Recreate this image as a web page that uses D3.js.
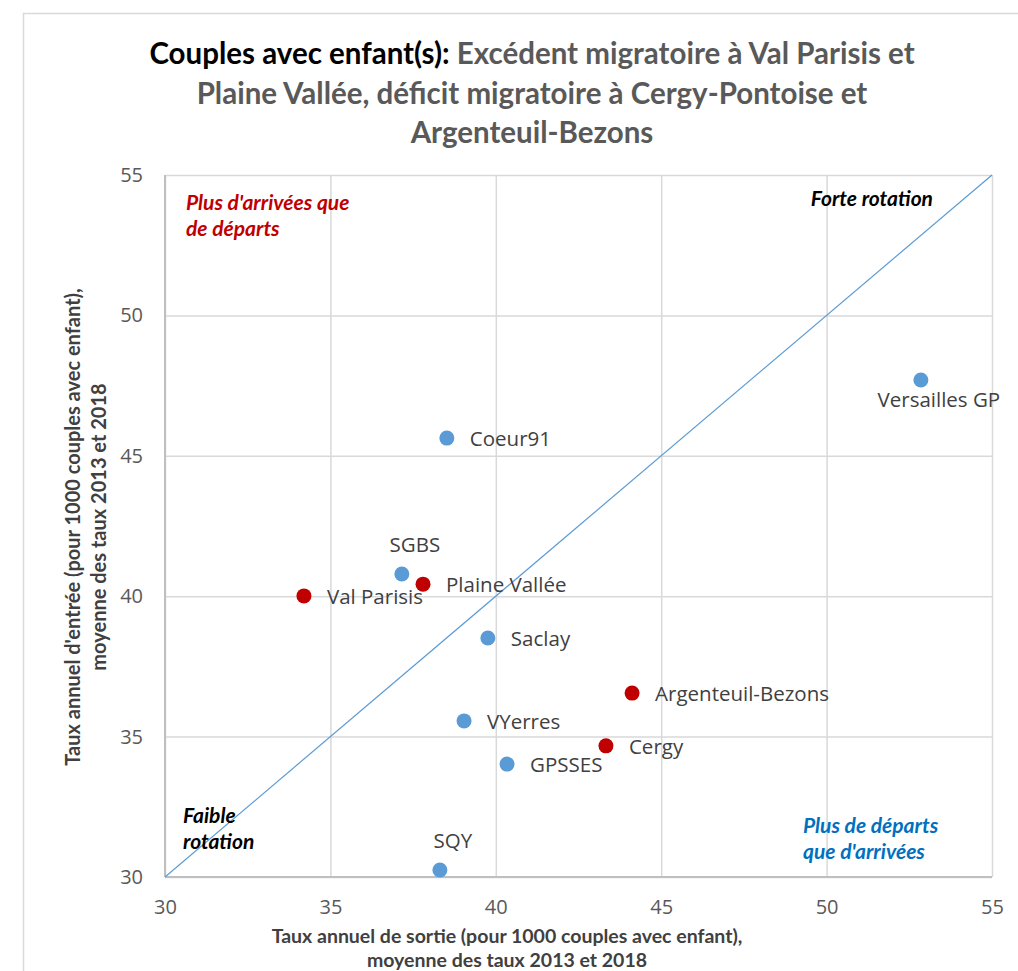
<!DOCTYPE html>
<html>
<head>
<meta charset="utf-8">
<script src="https://cdn.jsdelivr.net/npm/d3@7"></script>
<style>
  html, body { margin: 0; padding: 0; background: #ffffff; }
  svg { display: block; }
</style>
</head>
<body>
<svg id="chart" width="1018" height="971"></svg>
<script>
// ---------- data ----------
const territories = ["Val Parisis", "SGBS", "Plaine Vallée", "Coeur91", "Saclay", "VYerres", "GPSSES", "Cergy", "Argenteuil-Bezons", "SQY", "Versailles GP"];
const exitRates  = [34.2, 37.16, 37.8, 38.52, 39.76, 39.04, 40.34, 43.33, 44.12, 38.31, 52.85];
const entryRates = [40.01, 40.79, 40.43, 45.63, 38.51, 35.56, 34.02, 34.67, 36.55, 30.25, 47.70];
const groups     = ["excedent", "autre", "excedent", "autre", "autre", "autre", "autre", "deficit", "deficit", "autre", "autre"];
const labelSides = ["right", "above", "right", "right", "right", "right", "right", "right", "right", "above", "below"];
const xTicks = [30, 35, 40, 45, 50, 55];
const yTicks = [30, 35, 40, 45, 50, 55];
const diagonal = [[30, 30], [55, 55]];

const titleBold = "Couples avec enfant(s):";
const titleLines = [" Excédent migratoire à Val Parisis et", "Plaine Vallée, déficit migratoire à Cergy-Pontoise et", "Argenteuil-Bezons"];
const xTitle = ["Taux annuel de sortie (pour 1000 couples avec enfant),", "moyenne des taux 2013 et 2018"];
const yTitle = ["Taux annuel d'entrée (pour 1000 couples avec enfant),", "moyenne des taux 2013 et 2018"];

// ---------- setup ----------
const svg = d3.select("#chart");
const colorOf = g => (g === "excedent" || g === "deficit") ? "#c00000" : "#5b9bd5";

const x = d3.scaleLinear().domain([30, 55]).range([165, 992]);
const y = d3.scaleLinear().domain([30, 55]).range([877, 175]);
const plotW = x.range()[1] - x.range()[0];
const plotH = y.range()[0] - y.range()[1];

// outer frame
svg.append("rect")
  .attr("x", 23.5).attr("y", 13.5).attr("width", 1030).attr("height", 1000)
  .attr("fill", "#fff").attr("stroke", "#d9d9d9").attr("stroke-width", 1.5);

// ---------- title ----------
const titleFont = "Lato, 'Open Sans', sans-serif";
const title = svg.append("text")
  .attr("x", 532).attr("y", 64)
  .attr("text-anchor", "middle")
  .style("font-family", titleFont)
  .style("font-weight", "bold")
  .style("font-size", "29.5px");
title.append("tspan").attr("fill", "#000").text(titleBold);
title.append("tspan").attr("fill", "#595959").text(titleLines[0]);
titleLines.slice(1).forEach((t, i) => {
  svg.append("text")
    .attr("x", 532).attr("y", 104 + i * 39)
    .attr("text-anchor", "middle")
    .attr("fill", "#595959")
    .style("font-family", titleFont)
    .style("font-weight", "bold")
    .style("font-size", "29.5px")
    .text(t);
});

// ---------- grid & axes ----------
const gx = svg.append("g")
  .attr("transform", `translate(0,${y(30)})`)
  .call(d3.axisBottom(x).tickValues(xTicks).tickSizeInner(-plotH).tickSizeOuter(0).tickPadding(23));
const gy = svg.append("g")
  .attr("transform", `translate(${x(30)},0)`)
  .call(d3.axisLeft(y).tickValues(yTicks).tickSizeInner(-plotW).tickSizeOuter(0).tickPadding(22));

[gx, gy].forEach(g => {
  g.select(".domain").remove();
  g.selectAll(".tick line").attr("stroke", "#d9d9d9").attr("stroke-width", 1.5);
  g.selectAll(".tick text")
    .attr("fill", "#595959")
    .style("font-family", "'Open Sans', sans-serif")
    .style("font-size", "20px");
});

// axis lines (darker)
svg.append("line")
  .attr("x1", x(30)).attr("x2", x(55)).attr("y1", y(30)).attr("y2", y(30))
  .attr("stroke", "#bfbfbf").attr("stroke-width", 2);
svg.append("line")
  .attr("x1", x(30)).attr("x2", x(30)).attr("y1", y(30)).attr("y2", y(55))
  .attr("stroke", "#bfbfbf").attr("stroke-width", 2);

// diagonal
svg.append("path")
  .datum(diagonal)
  .attr("d", d3.line().x(d => x(d[0])).y(d => y(d[1])))
  .attr("fill", "none")
  .attr("stroke", "#5b9bd5")
  .attr("stroke-width", 1.2);

// ---------- axis titles ----------
xTitle.forEach((t, i) => {
  svg.append("text")
    .attr("x", 507).attr("y", 943 + i * 24)
    .attr("text-anchor", "middle")
    .attr("fill", "#404040")
    .style("font-family", titleFont)
    .style("font-weight", "bold")
    .style("font-size", "19.5px")
    .text(t);
});
const yMid = (y(30) + y(55)) / 2;
yTitle.forEach((t, i) => {
  svg.append("text")
    .attr("transform", `translate(${80 + i * 26},${yMid + 1}) rotate(-90)`)
    .attr("text-anchor", "middle")
    .attr("fill", "#404040")
    .style("font-family", titleFont)
    .style("font-weight", "bold")
    .style("font-size", "20px")
    .text(t);
});

// ---------- annotations ----------
function annot(lines, px, py, color, anchor) {
  lines.forEach((t, i) => {
    svg.append("text")
      .attr("x", px).attr("y", py + i * 25.5)
      .attr("text-anchor", anchor || "start")
      .attr("fill", color)
      .style("font-family", titleFont)
      .style("font-weight", "bold")
      .style("font-style", "italic")
      .style("font-size", "21px")
      .text(t);
  });
}
annot(["Plus d'arrivées que", "de départs"], 186, 210, "#c00000");
annot(["Forte rotation"], 933, 206, "#000000", "end");
annot(["Faible", "rotation"], 183, 823, "#000000");
annot(["Plus de départs", "que d'arrivées"], 803, 833, "#0070c0");

// ---------- points ----------
const data = territories.map((n, i) => ({
  name: n, ex: exitRates[i], en: entryRates[i], g: groups[i], side: labelSides[i]
}));

svg.append("g").selectAll("circle")
  .data(data).join("circle")
  .attr("cx", d => x(d.ex))
  .attr("cy", d => y(d.en))
  .attr("r", 7.5)
  .attr("fill", d => colorOf(d.g));

svg.append("g").selectAll("text")
  .data(data).join("text")
  .attr("x", d => d.side === "right" ? x(d.ex) + 23 : x(d.ex) + (d.side === "below" ? 18 : 13))
  .attr("y", d => d.side === "right" ? y(d.en) + 8 : (d.side === "above" ? y(d.en) - 22 : y(d.en) + 27))
  .attr("text-anchor", d => d.side === "right" ? "start" : "middle")
  .attr("fill", "#404040")
  .style("font-family", "'Open Sans', sans-serif")
  .style("font-size", "20.5px")
  .text(d => d.name);
</script>
</body>
</html>
